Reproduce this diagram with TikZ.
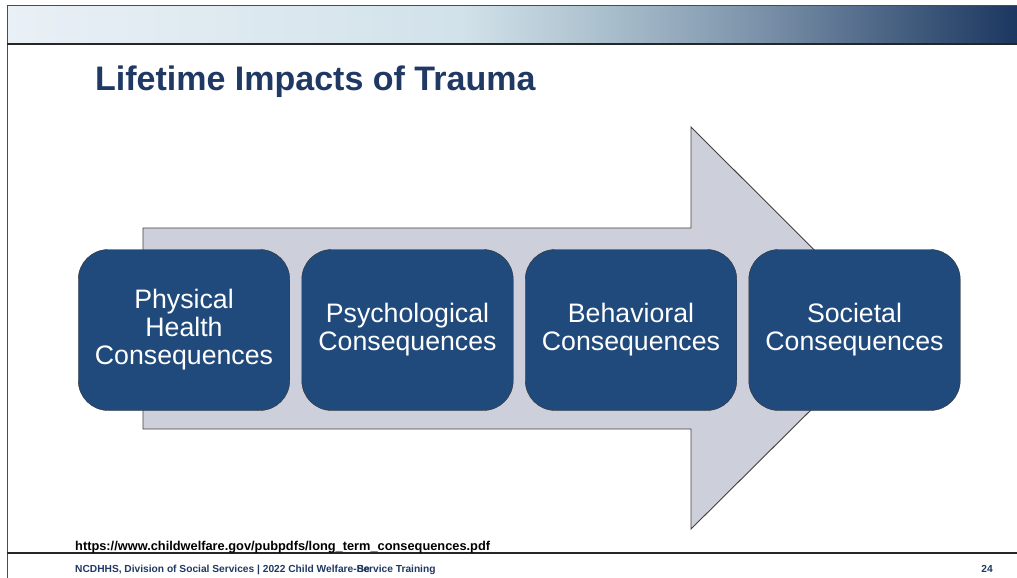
\documentclass[tikz,border=0pt]{standalone}
\usepackage{fontspec}
\setmainfont{Liberation Sans}
\usetikzlibrary{positioning}
\definecolor{titleblue}{HTML}{1F3864}
\definecolor{boxblue}{HTML}{214A7C}
\definecolor{arrowgray}{HTML}{CDD0DA}
\definecolor{barA}{HTML}{E9F0F6}
\definecolor{barB}{HTML}{D2E2EA}
\definecolor{barC}{HTML}{A8BDCB}
\definecolor{barD}{HTML}{7A90A8}
\definecolor{barE}{HTML}{405A7C}
\definecolor{barF}{HTML}{1C3760}
\pgfdeclarehorizontalshading{topbar}{100bp}{color(0bp)=(barA); color(25bp)=(barA); color(47.5bp)=(barB); color(55bp)=(barC); color(62.5bp)=(barD); color(70bp)=(barE); color(75bp)=(barF); color(100bp)=(barF)}
\begin{document}
\begin{tikzpicture}[x=1pt,y=-1pt,
  conseq/.style={draw=black!80,fill=boxblue,text=white,rounded corners=30pt,
    minimum width=211.5pt,minimum height=161pt,inner sep=0pt,outer sep=0pt,
    align=center,font=\fontsize{26.7}{28}\selectfont},
  node distance=12pt]
\useasboundingbox (0,0) rectangle (1017,578);
\shade[shading=topbar] (7,6) rectangle (1017,44);
\draw[black!70,line width=1pt] (7,6)--(1017,6);
\draw[black!70,line width=1pt] (7,6)--(7,578);
\draw[black!85,line width=1.8pt] (7,44)--(1017,44);
\draw[black!85,line width=1.8pt] (7,553)--(1017,553);
\node[anchor=base west,text=titleblue,font=\fontsize{34}{40}\selectfont\bfseries,inner sep=0pt] (title) at (95,90) {Lifetime Impacts of Trauma};
\draw[black!75,fill=arrowgray,line width=0.9pt] (143,228)--(691,228)--(691,127)--(893,328.5)--(691,529)--(691,429)--(143,429)--cycle;
\node[conseq] (phys) at (184,330) {Physical\\Health\\Consequences};
\node[conseq,right=of phys] (psych) {Psychological\\Consequences};
\node[conseq,right=of psych] (behav) {Behavioral\\Consequences};
\node[conseq,right=of behav] (soc) {Societal\\Consequences};
\node[anchor=base west,inner sep=0pt,font=\fontsize{12.8}{14}\selectfont\bfseries] (url) at (75,550) {https://www.childwelfare.gov/pubpdfs/long\_term\_consequences.pdf};
\node[anchor=base west,inner sep=0pt,text=titleblue,font=\fontsize{10.2}{12}\selectfont\bfseries] (foot) at (75,572) {NCDHHS, Division of Social Services | 2022 Child Welfare-\rlap{Be}Service Training};
\node[anchor=base east,inner sep=0pt,text=titleblue,font=\fontsize{10.2}{12}\selectfont\bfseries] (page) at (993,572) {24};
\end{tikzpicture}
\end{document}
